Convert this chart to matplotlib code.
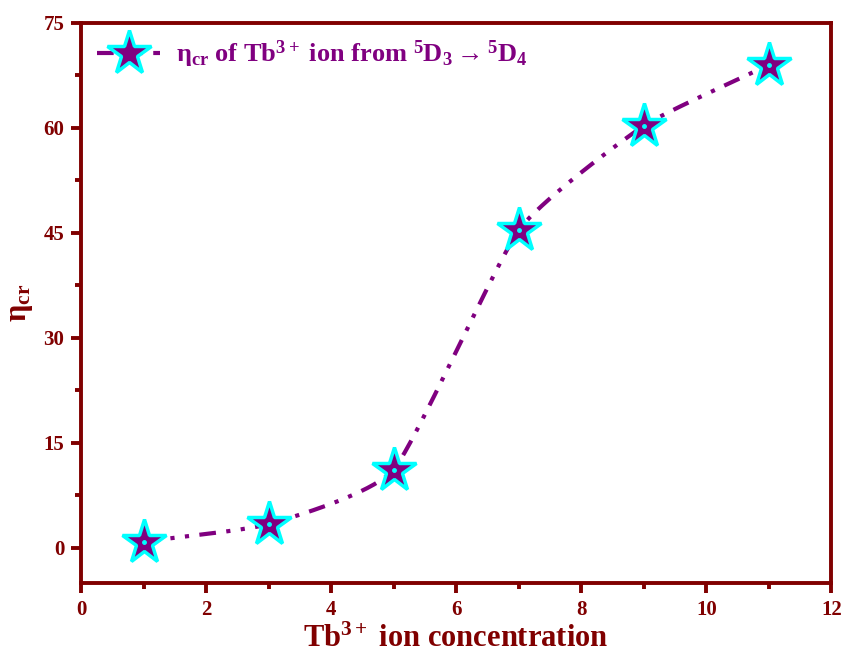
import numpy as np
import matplotlib
matplotlib.use('Agg')
import matplotlib.pyplot as plt
from matplotlib.ticker import MultipleLocator

# Tb3+ concentration vs cross-relaxation efficiency
conc = [1, 3, 5, 7, 9, 11]
eta_cr = [0.9, 3.4, 11.2, 45.4, 60.3, 69.0]

dark_red = '#800000'
purple = '#800080'
cyan = '#00ffff'

plt.rcParams['font.family'] = ['Liberation Serif', 'DejaVu Serif']
plt.rcParams['font.weight'] = 'bold'
plt.rcParams['mathtext.fontset'] = 'custom'
plt.rcParams['mathtext.rm'] = 'Liberation Serif:bold'
plt.rcParams['mathtext.it'] = 'Liberation Serif:bold'
plt.rcParams['mathtext.bf'] = 'Liberation Serif:bold'


def cardinal(x, y, tension=0.5, n=40):
    # cardinal spline through every data point (tension 0 = Catmull-Rom)
    x = np.asarray(x, float)
    y = np.asarray(y, float)
    px = np.concatenate([[2 * x[0] - x[1]], x, [2 * x[-1] - x[-2]]])
    py = np.concatenate([[2 * y[0] - y[1]], y, [2 * y[-1] - y[-2]]])
    s = (1 - tension) / 2
    t = np.linspace(0, 1, n)
    h00 = 2 * t ** 3 - 3 * t ** 2 + 1
    h10 = t ** 3 - 2 * t ** 2 + t
    h01 = -2 * t ** 3 + 3 * t ** 2
    h11 = t ** 3 - t ** 2
    xs, ys = [], []
    for i in range(1, len(px) - 2):
        for arr, out in ((px, xs), (py, ys)):
            m1 = s * (arr[i + 1] - arr[i - 1])
            m2 = s * (arr[i + 2] - arr[i])
            out.extend(h00 * arr[i] + h10 * m1 + h01 * arr[i + 1] + h11 * m2)
    return np.array(xs), np.array(ys)


fig = plt.figure(figsize=(8.44, 6.55), dpi=100)
ax = fig.add_axes([0.096, 0.110, 0.889, 0.855])

dash = (4, 2.5, 1, 2.5, 1, 2.5)
sx, sy = cardinal(conc, eta_cr, tension=0.5)
ax.plot(sx, sy, color=purple, lw=3, dashes=dash, zorder=2)
ax.plot(conc, eta_cr, ls='none', marker='*', ms=33, mfc=purple,
        mec=cyan, mew=2.5, zorder=3)
ax.plot(conc, eta_cr, ls='none', marker='o', ms=2.5, mfc=cyan,
        mec=cyan, zorder=4)

# legend handle: dash-dot line with star
handle, = ax.plot([], [], color=purple, lw=3, dashes=dash,
                  marker='*', ms=33, mfc=purple, mec=cyan, mew=2.5)
leg = ax.legend([handle],
                [r'η$_{cr}$ of Tb$^{3+}$ ion from $^5$D$_3$$\rightarrow$$^5$D$_4$'],
                loc='upper left', frameon=False, fontsize=19, handlelength=2.4,
                borderaxespad=0.3, borderpad=0.3, handletextpad=0.6)
for txt in leg.get_texts():
    txt.set_color(purple)
    txt.set_fontweight('bold')

ax.set_xlim(0, 12)
ax.set_ylim(-5, 75)
ax.xaxis.set_major_locator(MultipleLocator(2))
ax.xaxis.set_minor_locator(MultipleLocator(1))
ax.yaxis.set_major_locator(MultipleLocator(15))
ax.yaxis.set_minor_locator(MultipleLocator(7.5))

for side in ax.spines.values():
    side.set_color(dark_red)
    side.set_linewidth(2.8)

ax.tick_params(which='both', direction='out', color=dark_red, width=2.8,
               top=False, right=False)
ax.tick_params(which='major', length=7, labelsize=15, labelcolor=dark_red, pad=5)
ax.tick_params(which='minor', length=4)
for lab in ax.get_xticklabels() + ax.get_yticklabels():
    lab.set_fontweight('bold')

ax.set_xlabel(r'Tb$^{3+}$ ion concentration', fontsize=22, color=dark_red,
              fontweight='bold', labelpad=4)
ax.set_ylabel(r'η$_{cr}$', fontsize=22, color=dark_red, fontweight='bold',
              labelpad=6)

fig.savefig('out.png', dpi=100)
